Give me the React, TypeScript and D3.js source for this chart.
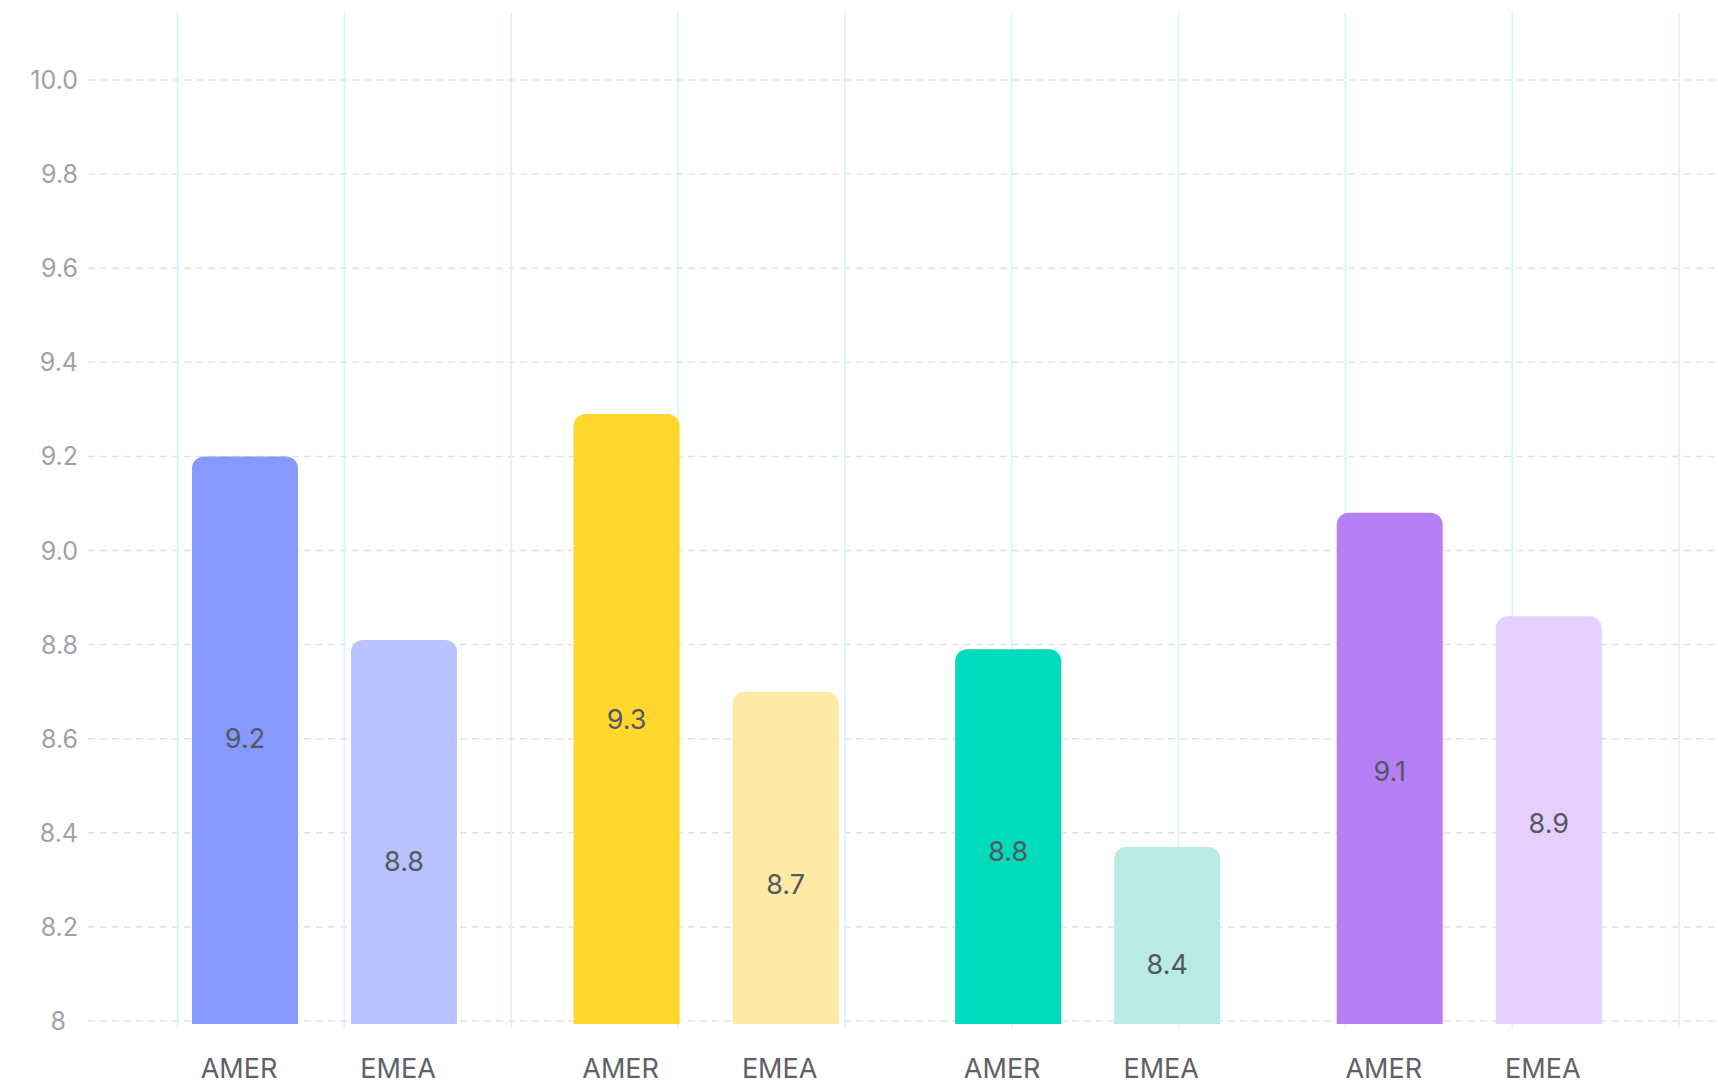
import React from "react";
import * as d3 from "d3";

const groups = ["G1", "G2", "G3", "G4"];
const regions = ["AMER", "EMEA"];
const amerValues = [9.2, 9.29, 8.79, 9.08];
const emeaValues = [8.81, 8.7, 8.37, 8.86];
// where each value label sits, in data units
const amerLabelAt = [8.6, 8.64, 8.36, 8.53];
const emeaLabelAt = [8.34, 8.29, 8.12, 8.42];
const amerColors = ["#8798ff", "#ffd62e", "#00dbbb", "#b77ff5"];
const emeaColors = ["#b8c3fe", "#feeaa5", "#b9ebe3", "#e4cffd"];
const yTickValues = [10.0, 9.8, 9.6, 9.4, 9.2, 9.0, 8.8, 8.6, 8.4, 8.2, 8];
const yTickLabels = ["10.0", "9.8", "9.6", "9.4", "9.2", "9.0", "8.8", "8.6", "8.4", "8.2", "8"];
const vGridIndex = [0, 1, 2, 3, 4, 5, 6, 7, 8, 9];

const W = 1718;
const H = 1086;

export default function App() {
  const y = d3.scaleLinear().domain([8, 10]).range([1021, 80]);
  const xGroup = d3
    .scaleBand<string>()
    .domain(groups)
    .range([133.75, 1660.05])
    .paddingInner(0.3054)
    .paddingOuter(0.1527);
  const xInner = d3
    .scaleBand<string>()
    .domain(regions)
    .range([0, xGroup.bandwidth()])
    .paddingInner(0.3333)
    .paddingOuter(0);
  const xGrid = d3.scaleLinear().domain([0, 9]).range([177.5, 1679]);
  const fmt = d3.format(".1f");
  const bw = xInner.bandwidth();
  const r = 12;
  const baseY = 1024;

  const barPath = (x0: number, yTop: number, w: number, yBottom: number) => {
    const p = d3.path();
    p.moveTo(x0, yBottom);
    p.lineTo(x0, yTop + r);
    p.arcTo(x0, yTop, x0 + r, yTop, r);
    p.lineTo(x0 + w - r, yTop);
    p.arcTo(x0 + w, yTop, x0 + w, yTop + r, r);
    p.lineTo(x0 + w, yBottom);
    p.closePath();
    return p.toString();
  };

  const bars: { key: string; region: string; value: number; labelAt: number; color: string; x: number }[] = [];
  groups.forEach((g, i) => {
    bars.push({ key: g + "A", region: "AMER", value: amerValues[i], labelAt: amerLabelAt[i], color: amerColors[i], x: (xGroup(g) ?? 0) + (xInner("AMER") ?? 0) });
    bars.push({ key: g + "E", region: "EMEA", value: emeaValues[i], labelAt: emeaLabelAt[i], color: emeaColors[i], x: (xGroup(g) ?? 0) + (xInner("EMEA") ?? 0) });
  });

  return (
    <svg
      width={W}
      height={H}
      style={{ position: "absolute", left: 0, top: 0, display: "block", background: "#ffffff" }}
      fontFamily="Inter, 'Noto Sans', sans-serif"
    >
      <rect x={0} y={0} width={W} height={H} fill="#ffffff" />
      {/* horizontal dashed grid */}
      {yTickValues.map((v) => (
        <line
          key={"h" + v}
          x1={88}
          x2={W}
          y1={y(v)}
          y2={y(v)}
          stroke="#e2e2e4"
          strokeWidth={1.5}
          strokeDasharray="7 5"
        />
      ))}
      {/* vertical light-blue grid */}
      {vGridIndex.map((i) => (
        <line
          key={"v" + i}
          x1={xGrid(i)}
          x2={xGrid(i)}
          y1={13}
          y2={1028}
          stroke="#d5f1fc"
          strokeWidth={1.5}
        />
      ))}
      {/* y tick labels */}
      {yTickValues.map((v, i) => (
        <text
          key={"t" + v}
          x={78}
          dx={yTickLabels[i].length === 1 ? -12 : 0}
          y={y(v)}
          textAnchor="end"
          dominantBaseline="central"
          fontSize={25}
          fill="#a0a1a7"
        >
          {yTickLabels[i]}
        </text>
      ))}
      {/* bars */}
      {bars.map((b) => (
        <g key={b.key}>
          <path d={barPath(b.x, y(b.value), bw, baseY)} fill={b.color} />
          <text
            x={b.x + bw / 2}
            y={y(b.labelAt)}
            textAnchor="middle"
            dominantBaseline="central"
            fontSize={27}
            fill="#53575f"
          >
            {fmt(b.value)}
          </text>
          <text
            x={b.x + bw / 2 - 6}
            y={1068}
            textAnchor="middle"
            dominantBaseline="central"
            fontSize={27}
            fill="#5e6168"
          >
            {b.region}
          </text>
        </g>
      ))}
    </svg>
  );
}
